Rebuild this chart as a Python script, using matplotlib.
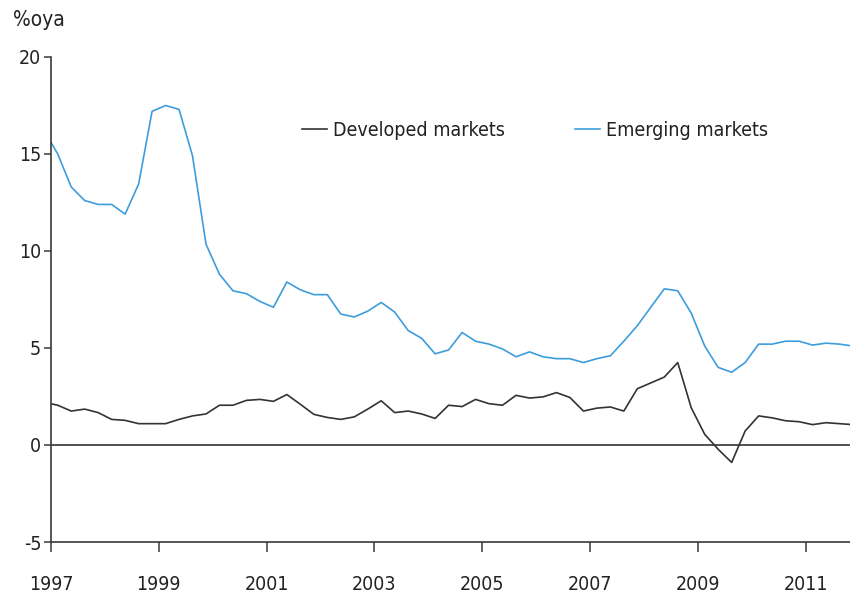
import matplotlib
matplotlib.use("Agg")
import matplotlib.pyplot as plt
import numpy as np

# quarterly observations, first point is 1996Q4 (clipped at the left axis)
FIRST_YEAR = 1996.875
developed = [
    2.2, 2.05, 1.75, 1.85, 1.67, 1.32, 1.27, 1.1, 1.1, 1.1,
    1.32, 1.5, 1.6, 2.05, 2.05, 2.3, 2.35, 2.25, 2.6, 2.1,
    1.58, 1.42, 1.32, 1.45, 1.85, 2.28, 1.67, 1.75, 1.6, 1.37,
    2.05, 1.98, 2.35, 2.13, 2.05, 2.56, 2.42, 2.48, 2.7, 2.45,
    1.75, 1.9, 1.96, 1.75, 2.9, 3.2, 3.5, 4.25, 1.92, 0.55,
    -0.22, -0.9, 0.72, 1.5, 1.4, 1.25, 1.2, 1.05, 1.15, 1.1,
    1.05,
]
emerging = [
    16.2, 15.0, 13.3, 12.6, 12.4, 12.4, 11.9, 13.45, 17.2, 17.5,
    17.3, 14.9, 10.35, 8.8, 7.95, 7.8, 7.4, 7.1, 8.4, 8.0,
    7.75, 7.75, 6.75, 6.6, 6.9, 7.35, 6.85, 5.9, 5.5, 4.7,
    4.9, 5.8, 5.35, 5.2, 4.95, 4.55, 4.8, 4.55, 4.45, 4.45,
    4.25, 4.45, 4.6, 5.35, 6.15, 7.1, 8.05, 7.95, 6.8, 5.1,
    4.0, 3.75, 4.25, 5.2, 5.2, 5.35, 5.35, 5.15, 5.25, 5.2,
    5.1,
]
year_ticks = [1997, 1999, 2001, 2003, 2005, 2007, 2009, 2011]
y_ticks = [-5, 0, 5, 10, 15, 20]

plt.rcParams["font.family"] = ["DejaVu Sans"]
plt.rcParams["font.stretch"] = "condensed"
plt.rcParams["axes.unicode_minus"] = False
FS = 14
TEXT = "#222222"
AXIS = "#3a3a3a"

t = FIRST_YEAR + np.arange(len(developed)) / 4.0

fig = plt.figure(figsize=(8.5, 5.93), dpi=100)
ax = fig.add_axes([51 / 850, 1 - 542 / 593, 1 - 51 / 850, (542 - 57) / 593])

ax.plot(t, developed, color="#333333", lw=1.2, label="Developed markets")
ax.plot(t, emerging, color="#3d9ddc", lw=1.2, label="Emerging markets")
ax.axhline(0, color="#222222", lw=1.1, zorder=1)

ax.set_xlim(1997, 2011.82)
ax.set_ylim(-5, 20)
ax.set_xticks(year_ticks)
ax.set_xticklabels([str(y) for y in year_ticks])
ax.set_yticks(y_ticks)

for side in ("top", "right"):
    ax.spines[side].set_visible(False)
for side in ("left", "bottom"):
    ax.spines[side].set_color(AXIS)
    ax.spines[side].set_linewidth(1.2)

ax.tick_params(axis="x", direction="out", length=7, width=1.1, color=AXIS,
               pad=17, labelsize=FS, labelcolor=TEXT)
ax.tick_params(axis="y", direction="out", length=5, width=1.1, color=AXIS,
               pad=2, labelsize=FS, labelcolor=TEXT)

fig.text(13 / 850, 1 - 20 / 593, "%oya", fontsize=FS + 1, color=TEXT,
         ha="left", va="center")

ax.legend(loc="center left", bbox_to_anchor=(302 / 850, 1 - 130 / 593),
          bbox_transform=fig.transFigure, ncol=2, frameon=False,
          fontsize=FS, handlelength=1.3, handletextpad=0.3,
          columnspacing=3.6, borderpad=0, borderaxespad=0,
          labelcolor=TEXT)

fig.savefig("out.png", dpi=100)
plt.close(fig)
